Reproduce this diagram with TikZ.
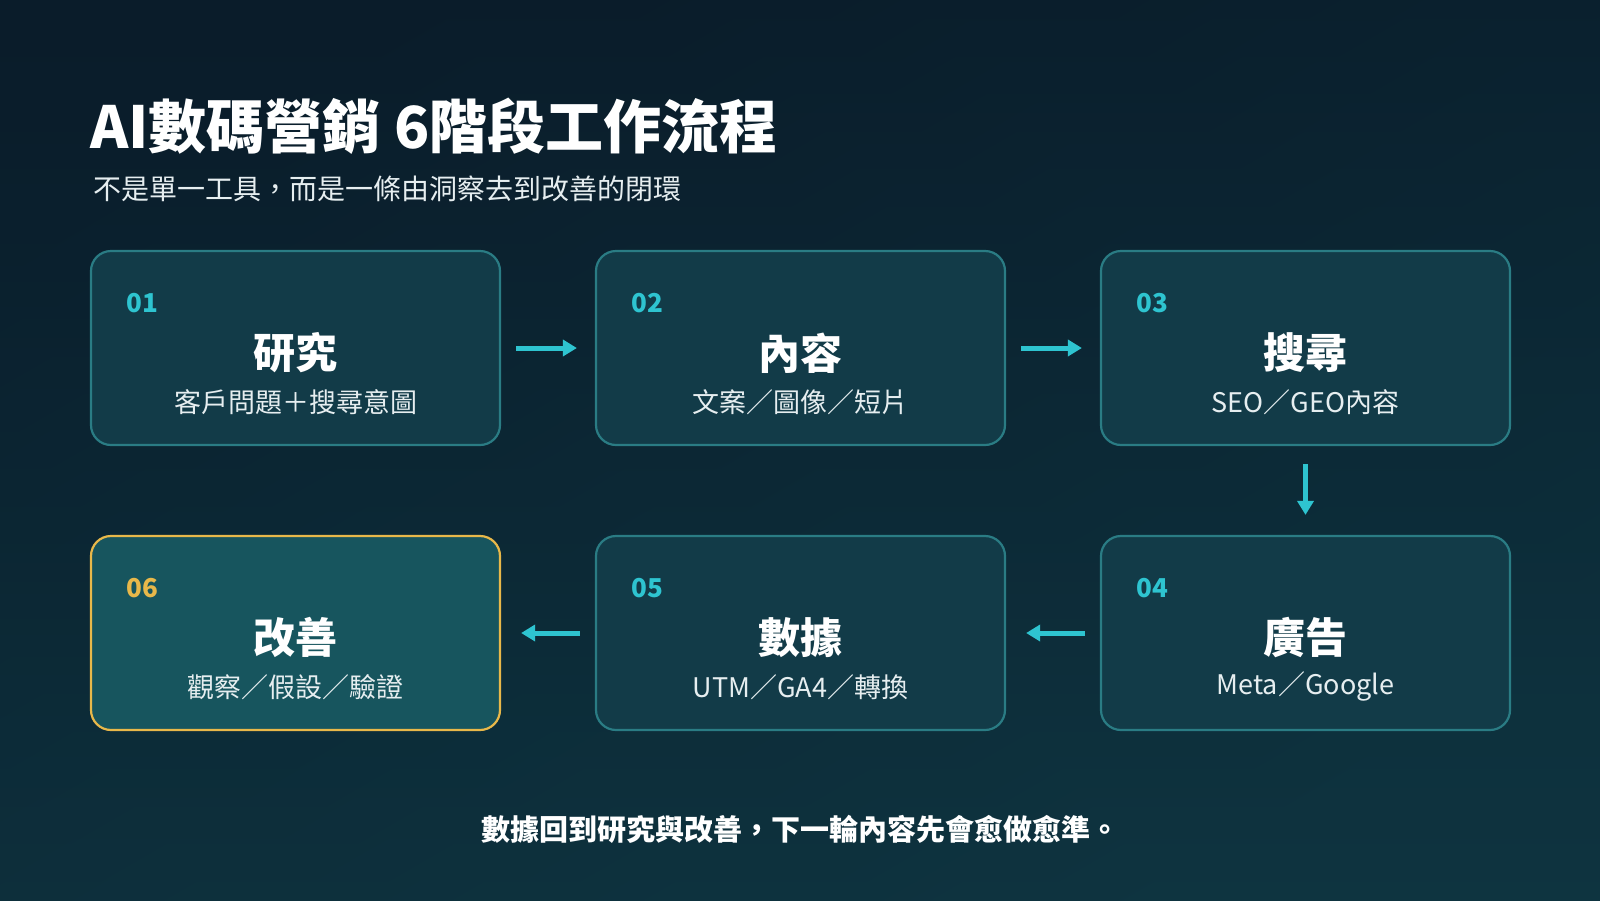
\documentclass[tikz,border=0pt]{standalone}
\usepackage{fontspec}
\setmainfont{Noto Sans CJK TC}
\usetikzlibrary{arrows.meta}
\definecolor{bgA}{HTML}{0A1C2A}
\definecolor{bgB}{HTML}{0E3440}
\definecolor{boxf}{HTML}{123B48}
\definecolor{boxd}{HTML}{2A7C84}
\definecolor{hif}{HTML}{17555E}
\definecolor{hid}{HTML}{E8B84A}
\definecolor{teal}{HTML}{2EC4D0}
\definecolor{sub}{HTML}{E6EEF0}
\tikzset{
 box/.style={draw=boxd,fill=boxf,line width=2.2pt,rounded corners=20pt,minimum width=409pt,minimum height=194pt,inner sep=0pt},
 hibox/.style={box,draw=hid,fill=hif},
 num/.style={anchor=west,text=teal,font=\bfseries\fontsize{26}{26}\selectfont},
 ttl/.style={text=white,font=\bfseries\fontsize{42}{42}\selectfont},
 stl/.style={text=sub,font=\fontsize{27}{27}\selectfont},
 arr/.style={draw=teal,line width=5pt,-{Triangle[length=14pt,width=16pt]}}
}
\newcommand{\stage}[7]{%
 \node[#7] (#1) at (#2,#3) {};
 \node[num,text=#6] (#1n) at ([xshift=33pt,yshift=-53pt]#1.north west) {#4};
 \node[ttl] (#1t) at ([yshift=-103pt]#1.north) {\csname stT#1\endcsname};
 \node[stl] (#1s) at ([yshift=-152pt]#1.north) {#5};
}
\begin{document}
\begin{tikzpicture}[x=1pt,y=-1pt]
\shade[left color=bgA,right color=bgB,shading angle=30] (0,0) rectangle (1600,900);
\shade[top color=bgA,bottom color=bgB,opacity=0.6] (0,0) rectangle (1600,900);
\useasboundingbox (0,0) rectangle (1600,900);
\node[anchor=base west,text=white,font=\bfseries\fontsize{58}{58}\selectfont,inner sep=0] (title) at (90,148) {AI數碼營銷 6階段工作流程};
\node[anchor=base west,text=sub,font=\fontsize{28}{28}\selectfont,inner sep=0] (subt) at (93,199) {不是單一工具，而是一條由洞察去到改善的閉環};
\expandafter\def\csname stTa\endcsname{研究}
\expandafter\def\csname stTb\endcsname{內容}
\expandafter\def\csname stTc\endcsname{搜尋}
\expandafter\def\csname stTd\endcsname{廣告}
\expandafter\def\csname stTe\endcsname{數據}
\expandafter\def\csname stTf\endcsname{改善}
\stage{a}{295.5}{348}{01}{客戶問題＋搜尋意圖}{teal}{box}
\stage{b}{800.5}{348}{02}{文案／圖像／短片}{teal}{box}
\stage{c}{1305.5}{348}{03}{SEO／GEO內容}{teal}{box}
\stage{d}{1305.5}{633}{04}{Meta／Google}{teal}{box}
\stage{e}{800.5}{633}{05}{UTM／GA4／轉換}{teal}{box}
\stage{f}{295.5}{633}{06}{觀察／假設／驗證}{hid}{hibox}
\draw[arr] ([xshift=15pt]a.east) -- ([xshift=-18pt]b.west);
\draw[arr] ([xshift=15pt]b.east) -- ([xshift=-18pt]c.west);
\draw[arr] ([yshift=-18pt]c.south) -- ([yshift=20pt]d.north);
\draw[arr] ([xshift=-15pt]d.west) -- ([xshift=20pt]e.east);
\draw[arr] ([xshift=-15pt]e.west) -- ([xshift=20pt]f.east);
\node[text=white,font=\bfseries\fontsize{29}{29}\selectfont] (foot) at (800,829) {數據回到研究與改善，下一輪內容先會愈做愈準。};
\end{tikzpicture}
\end{document}
